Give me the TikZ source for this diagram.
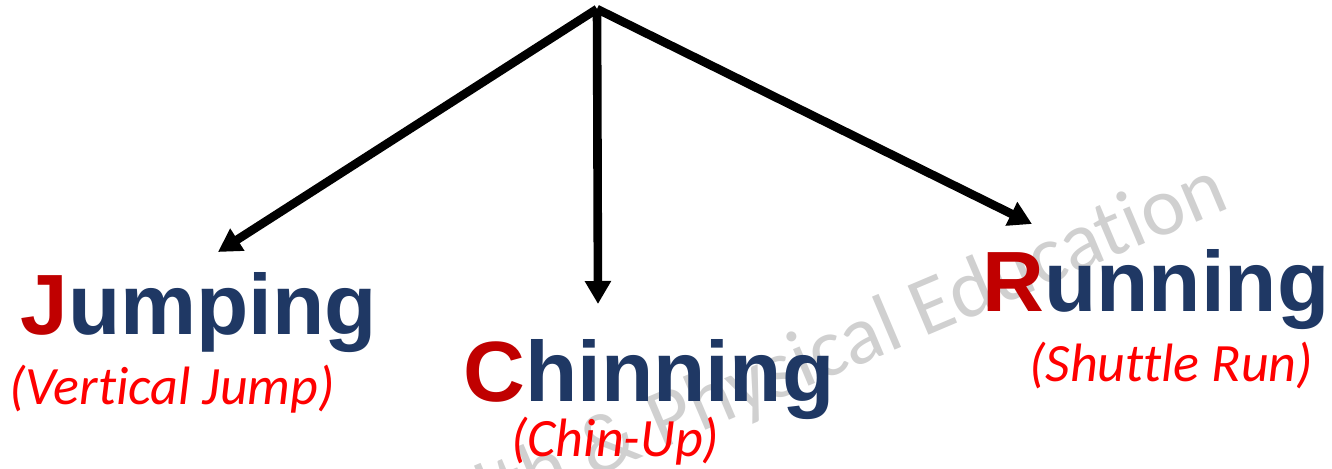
\documentclass[tikz,border=0pt]{standalone}
\usepackage{fontspec}
\setmainfont{Liberation Sans}
\newfontfamily\calib[Ligatures=NoCommon]{Carlito}
\usetikzlibrary{arrows.meta}
\definecolor{darkred}{HTML}{C00000}
\definecolor{navy}{HTML}{1F3864}
\definecolor{wm}{HTML}{D0D0D0}
\begin{document}
\begin{tikzpicture}[x=0.5pt,y=-0.5pt,
  title/.style={inner sep=0,anchor=base west,font=\fontsize{42.8}{48}\selectfont\bfseries,text=navy},
  sub/.style={inner sep=0,anchor=base west,font=\calib\fontsize{27}{31}\selectfont\itshape,text=red},
  conn/.style={line width=4.3pt,-{Triangle[width=12.5pt,length=11.5pt]}}]
\useasboundingbox (0,0) rectangle (1332,469);
\begin{scope}
\clip (0,0) rectangle (1332,469);
\node[inner sep=0,anchor=base east,rotate=23,text=wm,font=\calib\fontsize{41.5}{46}\selectfont] (wmark) at (1232,207) {Health \& Physical Education};
\end{scope}
\coordinate (apex) at (597,9);
\coordinate (tj) at (218,252);
\coordinate (tc) at (598,304);
\coordinate (tr) at (1032,224);
\draw[conn] (apex) -- (tj);
\draw[conn] (apex) -- (tc);
\draw[conn] (apex) -- (tr);
\node[title] (jump) at (20,335) {\textcolor{darkred}{J}umping};
\node[title] (chin) at (463,402) {\textcolor{darkred}{C}hinning};
\node[title] (run) at (982,312) {\textcolor{darkred}{R}unning};
\node[sub] (vj) at (9,405) {(Vertical Jump)};
\node[sub] (cu) at (511,457) {(Chin-Up)};
\node[sub] (sr) at (1029,382) {(Shuttle Run)};
\end{tikzpicture}
\end{document}
